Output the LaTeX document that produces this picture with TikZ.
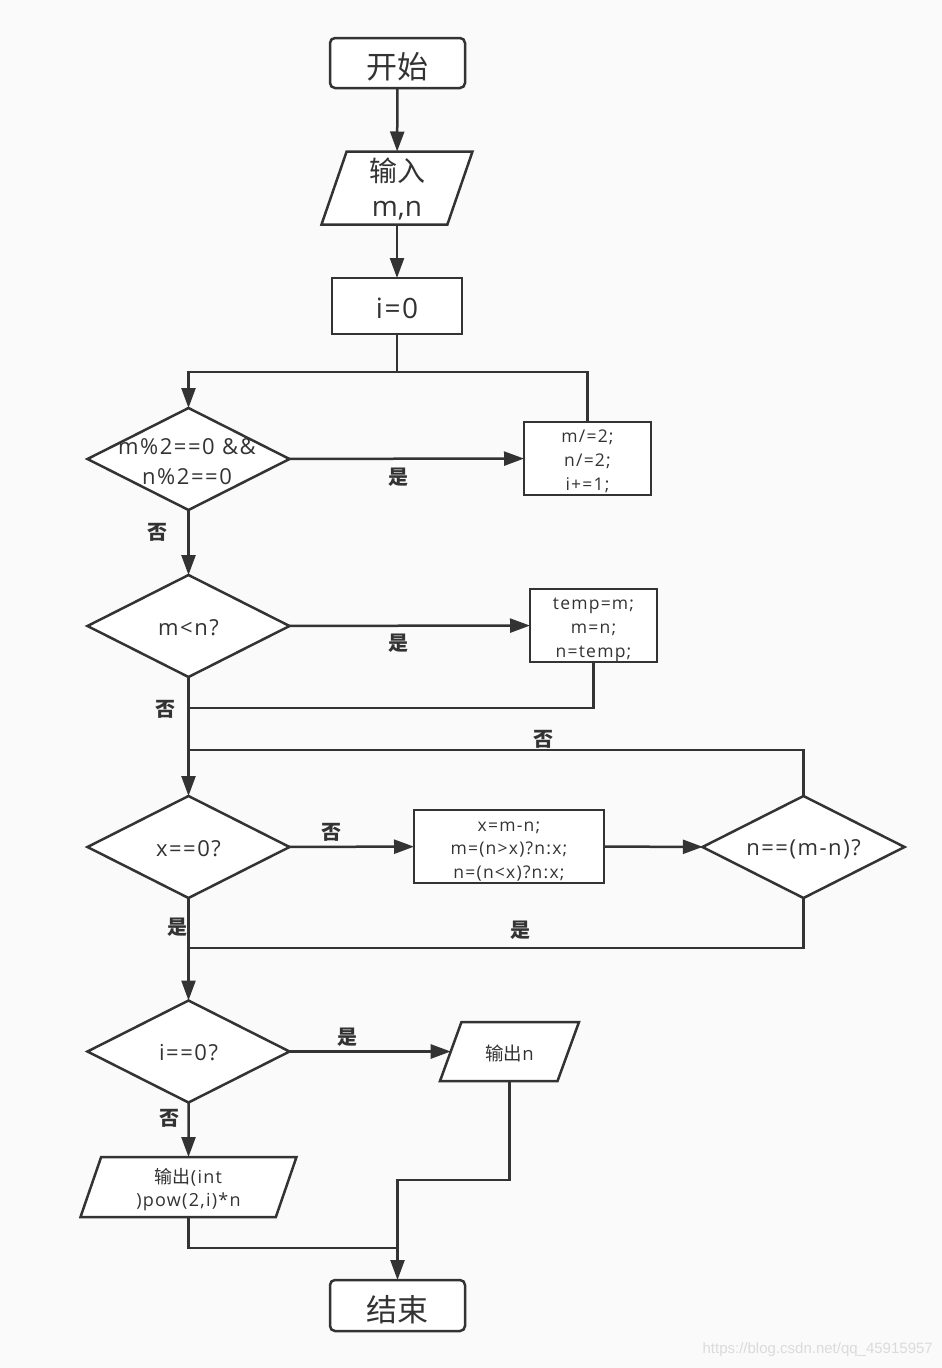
\documentclass[tikz,border=0pt]{standalone}
\usepackage{fontspec}
\setmainfont{Open Sans}
\newfontfamily\sm{Open Sans}[LetterSpace=7]
\newfontfamily\md{Open Sans}[LetterSpace=6]
\newfontfamily\cjk{Noto Sans CJK SC}
\newfontfamily\wmfont{Liberation Sans}
\usetikzlibrary{shapes.geometric,arrows.meta,calc}
\definecolor{lc}{HTML}{333333}
\definecolor{bg}{HTML}{FAFAFA}
\newcommand\tx[2]{\raisebox{-#1}[\height][\depth]{\begin{tabular}{@{}c@{}}#2\end{tabular}}}
\begin{document}
\begin{tikzpicture}[x=1pt,y=-1pt,
  base/.style={draw=lc, line width=2.5pt, fill=white, inner sep=0pt, outer sep=0pt, align=center, text=lc},
  term/.style={base, rounded corners=5pt, minimum width=135pt, minimum height=50pt, font=\fontsize{31}{36}\selectfont},
  proc/.style={base, minimum width=127pt, minimum height=73pt, font=\fontsize{17.5}{24}\selectfont\sm},
  dia/.style={base, diamond, minimum width=202pt, minimum height=102pt},
  dtxt/.style={text=lc, align=center, inner sep=0pt, font=\fontsize{22}{30}\selectfont\sm},
  iobox/.style={base, trapezium, trapezium stretches body},
  lab/.style={text=lc, inner sep=0pt, font=\fontsize{20}{22}\selectfont\cjk\bfseries},
  conn/.style={draw=lc, line width=2.5pt},
  arr/.style={conn, -{Triangle[length=20pt,width=14pt]}}
]
\useasboundingbox (0,0) rectangle (942,1368);
\fill[bg] (0,0) rectangle (942,1368);

% nodes
\node[term] (start) at (397.5,63) {\tx{8pt}{\cjk 开始}};
\node[iobox, trapezium left angle=71, trapezium right angle=109, minimum width=151pt, minimum height=73pt,
      inner ysep=1.5pt, font=\fontsize{28}{35}\selectfont] (input) at (397,188) {\tx{4pt}{{\cjk 输入}\\m,n}};
\node[base, minimum width=130pt, minimum height=56pt, font=\fontsize{28}{35}\selectfont\md] (i0) at (397,306) {\tx{5pt}{i=0}};

\node[dia] (d1) at (188.5,459) {};
\node[dtxt] (d1t) at (187,462) {m\%2==0 \&\&\\n\%2==0};
\node[proc] (box1) at (587.5,458.5) {\tx{3.5pt}{m/=2;\\n/=2;\\i+=1;}};

\node[dia] (d2) at (188.5,626) {};
\node[dtxt] (d2t) at (188.5,628) {m<n?};
\node[proc] (box2) at (593.5,625.5) {\tx{3.5pt}{temp=m;\\m=n;\\n=temp;}};

\node[dia] (d3) at (188.5,847) {};
\node[dtxt] (d3t) at (188.5,849) {x==0?};
\node[proc, minimum width=190pt, font=\fontsize{17.5}{23.5}\selectfont\sm] (box3) at (509,846.5) {\tx{3.5pt}{x=m-n;\\m=(n>x)?n:x;\\n=(n<x)?n:x;}};
\node[dia] (d4) at (803.5,847) {};
\node[dtxt] (d4t) at (803.5,849) {n==(m-n)?};

\node[dia] (d5) at (188.5,1051.5) {};
\node[dtxt] (d5t) at (188.5,1053) {i==0?};
\node[iobox, trapezium left angle=70, trapezium right angle=110, minimum width=139pt, minimum height=59pt,
      inner ysep=18pt, font=\fontsize{18.5}{23}\selectfont\sm] (out1) at (509.5,1051.5) {\tx{4pt}{{\cjk 输出}n}};
\node[iobox, trapezium left angle=71, trapezium right angle=109, minimum width=216pt, minimum height=60pt,
      inner ysep=7pt, font=\fontsize{18}{23}\selectfont\sm] (out2) at (188.5,1187) {\tx{3pt}{{\cjk 输出}(int\\)pow(2,i)*n}};

\node[term, minimum height=51pt] (end) at (397.5,1305.5) {\tx{8pt}{\cjk 结束}};

% junctions
\coordinate (j1) at ($(d1.north)+(0,-36)$);
\coordinate (j2) at (188.5,708);
\coordinate (j3) at (188.5,750);
\coordinate (j4) at (188.5,948);
\coordinate (j5) at (397.5,1180);
\coordinate (j6) at (397.5,1248);

% connectors
\draw[arr] (start) -- (input);
\draw[arr] (input) -- (i0);
\draw[arr] (i0.south) |- (j1) -- (d1.north);
\draw[conn] (box1.north) |- (j1);
\draw[arr] (d1) -- (box1);
\draw[arr] (d1) -- (d2);
\draw[arr] (d2) -- (box2);
\draw[conn] (box2.south) |- (j2);
\draw[arr] (d2) -- (d3);
\draw[conn] (d4.north) |- (j3);
\draw[arr] (d3) -- (box3);
\draw[arr] (box3) -- (d4);
\draw[conn] (d4.south) |- (j4);
\draw[arr] (d3) -- (d5);
\draw[arr] (d5) -- (out1);
\draw[arr] (d5) -- (out2);
\draw[arr] (out1.south) |- (j5) -- (end.north);
\draw[conn] (out2.south) |- (j6);

% labels
\node[lab] (l1) at (398,477) {是};
\node[lab] (l2) at (157,532) {否};
\node[lab] (l3) at (398,643) {是};
\node[lab] (l4) at (165,709) {否};
\node[lab] (l5) at (543,739) {否};
\node[lab] (l6) at (331,832) {否};
\node[lab] (l7) at (177,927) {是};
\node[lab] (l8) at (520,930) {是};
\node[lab] (l9) at (347,1037) {是};
\node[lab] (l10) at (169,1118) {否};

\node[text=black!14, inner sep=0pt, font=\wmfont\fontsize{15}{18}\selectfont, anchor=east] (wm) at (933,1350) {https://blog.csdn.net/qq\_45915957};
\end{tikzpicture}
\end{document}
